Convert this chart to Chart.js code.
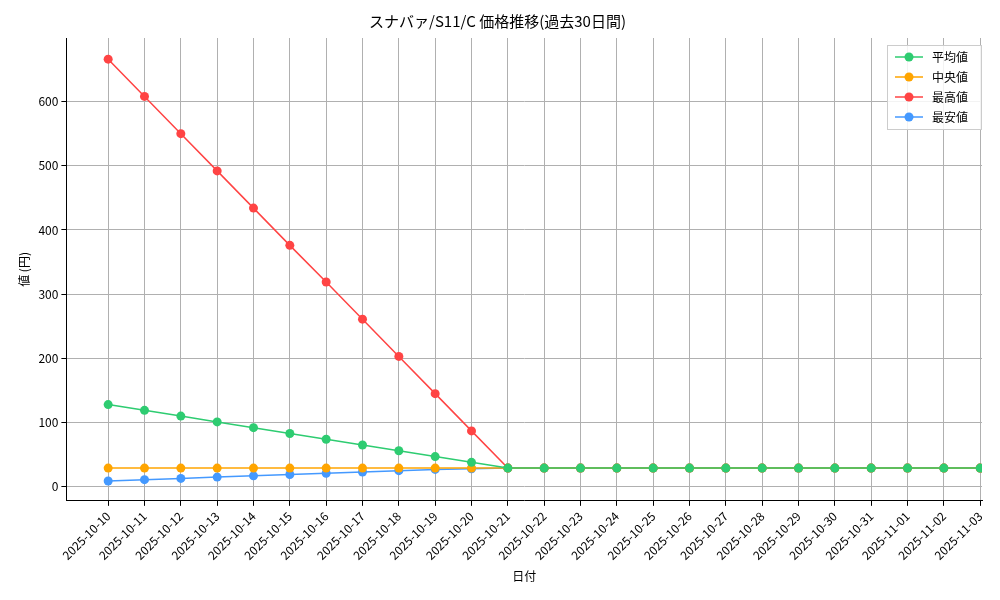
<!DOCTYPE html>
<html>
<head>
<meta charset="utf-8">
<script src="https://cdn.jsdelivr.net/npm/chart.js@4"></script>
<style>
  body { margin: 0; background: #fff; }
  #wrap { width: 1000px; height: 600px; }
</style>
</head>
<body>
<div id="wrap"><canvas id="grafico"></canvas></div>
<script>
const fechas = ['2025-10-10','2025-10-11','2025-10-12','2025-10-13','2025-10-14','2025-10-15','2025-10-16',
  '2025-10-17','2025-10-18','2025-10-19','2025-10-20','2025-10-21','2025-10-22','2025-10-23','2025-10-24',
  '2025-10-25','2025-10-26','2025-10-27','2025-10-28','2025-10-29','2025-10-30','2025-10-31','2025-11-01',
  '2025-11-02','2025-11-03'];
const heikin = [128,119,110,101,92,83,74,65,56,47,38,29,29,29,29,29,29,29,29,29,29,29,29,29,29];
const chuou  = [29,29,29,29,29,29,29,29,29,29,29,29,29,29,29,29,29,29,29,29,29,29,29,29,29];
const saikou = [666,608,550,492,434,376,319,261,203,145,87,29,29,29,29,29,29,29,29,29,29,29,29,29,29];
const saian  = [9,11,13,15,17,19,21,23,25,27,28,29,29,29,29,29,29,29,29,29,29,29,29,29,29];
const yTicks = [0,100,200,300,400,500,600];

const fuente = '"Noto Sans CJK JP", sans-serif';
Chart.defaults.font.family = fuente;
Chart.defaults.color = '#000';

function serie(label, valores, color) {
  return {
    label: label,
    data: valores.map((v, i) => ({ x: i, y: v })),
    borderColor: color,
    backgroundColor: color,
    borderWidth: 1.5,
    pointRadius: 4.5,
    pointHoverRadius: 4.5,
    pointBorderWidth: 0
  };
}

// leyenda dibujada a mano (arriba a la derecha, con marco)
const leyenda = {
  id: 'leyenda',
  afterDraw(chart) {
    const ctx = chart.ctx;
    const area = chart.chartArea;
    const w = 94, h = 84;
    const x0 = area.right - w - 1, y0 = area.top + 7;
    ctx.save();
    ctx.fillStyle = 'rgba(255,255,255,0.85)';
    ctx.fillRect(x0, y0, w, h);
    ctx.strokeStyle = '#ccc';
    ctx.lineWidth = 1;
    ctx.strokeRect(x0 + 0.5, y0 + 0.5, w, h);
    ctx.font = '12px ' + fuente;
    ctx.textBaseline = 'middle';
    chart.data.datasets.forEach((ds, i) => {
      const y = y0 + 12 + i * 20;
      ctx.strokeStyle = ds.borderColor;
      ctx.lineWidth = 1.5;
      ctx.beginPath();
      ctx.moveTo(x0 + 8, y);
      ctx.lineTo(x0 + 36, y);
      ctx.stroke();
      ctx.fillStyle = ds.borderColor;
      ctx.beginPath();
      ctx.arc(x0 + 22, y, 4.5, 0, Math.PI * 2);
      ctx.fill();
      ctx.fillStyle = '#000';
      ctx.fillText(ds.label, x0 + 45, y);
    });
    ctx.restore();
  }
};

new Chart(document.getElementById('grafico'), {
  type: 'line',
  data: {
    datasets: [
      serie('平均値', heikin, '#2ecc71'),
      serie('中央値', chuou, '#ffa500'),
      serie('最高値', saikou, '#ff4444'),
      serie('最安値', saian, '#4499ff')
    ]
  },
  plugins: [leyenda],
  options: {
    responsive: true,
    maintainAspectRatio: false,
    animation: false,
    layout: { padding: { left: 13, right: 18, top: 4, bottom: 12 } },
    plugins: {
      title: { display: true, text: 'スナバァ/S11/C 価格推移(過去30日間)', font: { size: 15, weight: 'normal' }, padding: { top: 8, bottom: 8 } },
      legend: { display: false },
      tooltip: { enabled: false }
    },
    scales: {
      x: {
        type: 'linear',
        bounds: 'data',
        min: -1.15,
        max: 24.05,
        ticks: {
          stepSize: 1,
          includeBounds: false,
          autoSkip: false,
          maxRotation: 45,
          minRotation: 45,
          font: { size: 12 },
          callback: v => (Number.isInteger(v) && v >= 0 && v < fechas.length) ? fechas[v] : ''
        },
        afterBuildTicks: axis => { axis.ticks = fechas.map((_, i) => ({ value: i })); },
        grid: { color: '#b0b0b0', tickColor: '#000', tickLength: 5 },
        border: { color: '#000' },
        title: { display: true, text: '日付', font: { size: 12 } }
      },
      y: {
        bounds: 'data',
        min: -22,
        max: 699,
        ticks: { includeBounds: false, font: { size: 12 } },
        afterBuildTicks: axis => { axis.ticks = yTicks.map(v => ({ value: v })); },
        grid: { color: '#b0b0b0', tickColor: '#000', tickLength: 5 },
        border: { color: '#000' },
        title: { display: true, text: '値 (円)', font: { size: 12 } }
      }
    }
  }
});
</script>
</body>
</html>
